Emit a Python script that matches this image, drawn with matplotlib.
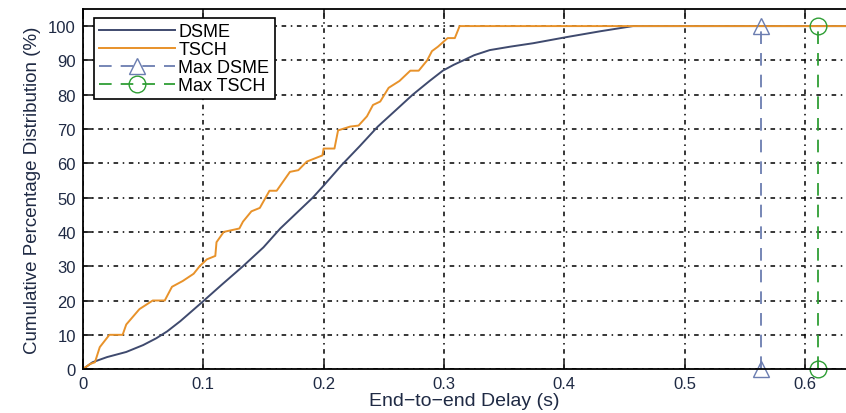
import numpy as np
import matplotlib
matplotlib.use("Agg")
import matplotlib.pyplot as plt

plt.rcParams["font.family"] = ["Liberation Sans", "DejaVu Sans"]

# DSME: smooth CDF of end-to-end delay (s, %)
dsme_x = [0.0, 0.008, 0.020, 0.036, 0.050, 0.061, 0.070, 0.081, 0.099, 0.115,
          0.133, 0.150, 0.164, 0.191, 0.200, 0.215, 0.230, 0.245, 0.260, 0.274,
          0.288, 0.299, 0.308, 0.316, 0.325, 0.338, 0.355, 0.374, 0.402, 0.430,
          0.457, 0.64]
dsme_y = [0, 2, 3.5, 5, 7, 9, 11, 14, 19.5, 24.5,
          30, 35.5, 41, 50, 53.5, 59.5, 65, 70.7, 75.5, 80,
          84, 87, 88.7, 90, 91.5, 93, 94, 95, 96.8, 98.5,
          100, 100]

# TSCH: jagged staircase CDF
tsch_x = [0.0, 0.006, 0.010, 0.014, 0.022, 0.033, 0.036, 0.047, 0.058, 0.068,
          0.074, 0.083, 0.092, 0.097, 0.103, 0.110, 0.111, 0.117, 0.130, 0.133,
          0.140, 0.147, 0.155, 0.161, 0.172, 0.179, 0.186, 0.199, 0.200, 0.209,
          0.212, 0.222, 0.229, 0.236, 0.241, 0.247, 0.254, 0.263, 0.272, 0.279,
          0.286, 0.290, 0.295, 0.303, 0.309, 0.313, 0.64]
tsch_y = [0, 1.5, 2, 6.4, 10, 10, 13, 17.5, 20, 20,
          24, 25.7, 27.8, 30, 32, 33, 37, 40, 41, 43,
          46, 47, 52, 52, 57.5, 58, 60.5, 62.3, 64.3, 64.3,
          69.6, 70.7, 71, 73.7, 77, 78, 82, 84, 87, 87,
          90, 92.7, 94, 96.5, 96.5, 100, 100]

max_dsme = 0.5636
max_tsch = 0.611

xticks = [0, 0.1, 0.2, 0.3, 0.4, 0.5, 0.6]
xticklabels = ["0", "0.1", "0.2", "0.3", "0.4", "0.5", "0.6"]
yticks = list(range(0, 101, 10))

c_dsme = "#3f4a6e"
c_tsch = "#e8922a"
c_maxd = "#6b7db0"
c_maxt = "#2f9e35"
c_text = "#1f2a44"

fig = plt.figure(figsize=(8.46, 4.14), dpi=100)
ax = fig.add_axes([0.098, 0.106, 0.902, 0.870])

ax.plot(dsme_x, dsme_y, color=c_dsme, lw=1.4, label="DSME")
ax.plot(tsch_x, tsch_y, color=c_tsch, lw=1.4, label="TSCH")
ax.plot([max_dsme, max_dsme], [0, 100], color=c_maxd, lw=1.3, ls=(0, (7, 5)),
        marker="^", ms=12, mfc="none", mec=c_maxd, label="Max DSME", clip_on=False)
ax.plot([max_tsch, max_tsch], [0, 100], color=c_maxt, lw=1.3, ls=(0, (7, 5)),
        marker="o", ms=12, mfc="none", mec=c_maxt, label="Max TSCH", clip_on=False)

ax.set_xlim(0, 0.634)
ax.set_ylim(0, 105)
ax.set_xticks(xticks)
ax.set_xticklabels(xticklabels)
ax.set_yticks(yticks)
ax.tick_params(direction="in", length=7, width=1.2, labelsize=12, top=True, right=False,
               colors="#222", labelcolor=c_text, pad=5)
ax.grid(True, color="black", lw=1.1, ls=(0, (3, 3, 1, 3)))
ax.spines["right"].set_visible(False)
for s in ("left", "bottom", "top"):
    ax.spines[s].set_linewidth(1.3)

ax.set_xlabel("End\u2212to\u2212end Delay (s)", fontsize=14, labelpad=1, color=c_text)
ax.set_ylabel("Cumulative Percentage Distribution (%)", fontsize=13.5, labelpad=5, color=c_text)

leg = ax.legend(loc="upper left", bbox_to_anchor=(0.014, 0.975), fontsize=13,
                frameon=True, fancybox=False, handlelength=4.2, borderaxespad=0.0,
                labelspacing=0.05, handletextpad=0.2, borderpad=0.3)
leg.get_frame().set_edgecolor("black")
leg.get_frame().set_linewidth(1.2)
leg.get_frame().set_alpha(1)

fig.savefig("out.png", dpi=100)
